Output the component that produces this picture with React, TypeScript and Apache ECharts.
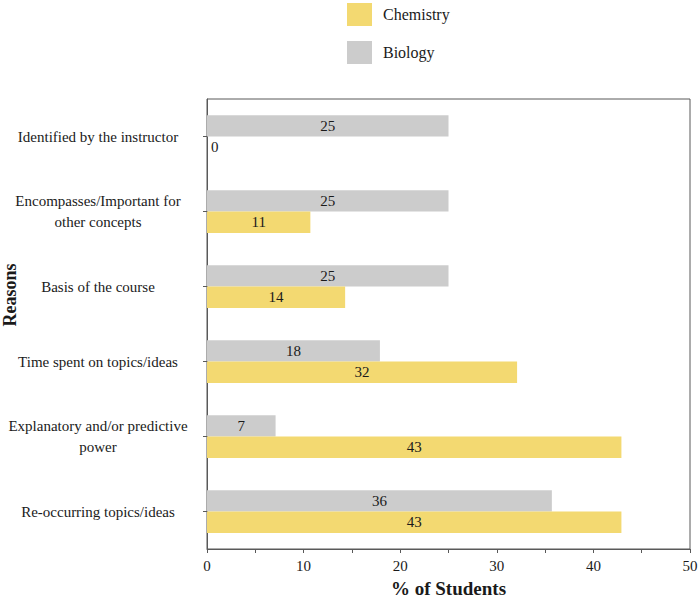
import React, { useEffect, useRef } from "react";
import * as echarts from "echarts";

const categories = [
  "Re-occurring topics/ideas",
  "Explanatory and/or predictive\npower",
  "Time spent on topics/ideas",
  "Basis of the course",
  "Encompasses/Important for\nother concepts",
  "Identified by the instructor",
];
const chemistry = [42.9, 42.9, 32.1, 14.3, 10.7, 0];
const biology = [35.7, 7.1, 17.9, 25, 25, 25];
const xTicks = { min: 0, max: 50, interval: 10 };

const FONT = "'Liberation Serif', 'DejaVu Serif', serif";

export default function App() {
  const ref = useRef<HTMLDivElement>(null);
  useEffect(() => {
    document.body.style.margin = "0";
    const chart = echarts.init(ref.current!, null, { renderer: "svg" });
    const labelBase = {
      show: true,
      position: "inside",
      color: "#1a1a1a",
      fontSize: 15,
      fontFamily: FONT,
      formatter: (p: any) => String(Math.round(p.value)),
    };
    const mk = (arr: number[]) =>
      arr.map((v) =>
        v === 0 ? { value: v, label: { position: "right", distance: 4 } } : v
      );
    chart.setOption({
      animation: false,
      textStyle: { fontFamily: FONT },
      legend: {
        orient: "vertical",
        left: 342,
        top: -2,
        itemWidth: 25,
        itemHeight: 23,
        itemGap: 15,
        icon: "rect",
        data: ["Chemistry", "Biology"],
        textStyle: { fontSize: 16, color: "#1a1a1a", fontFamily: FONT, padding: [0, 0, 0, 6] },
      },
      graphic: [
        {
          type: "text",
          x: 10,
          y: 295,
          rotation: Math.PI / 2,
          style: {
            text: "Reasons",
            fontSize: 18,
            fontWeight: "bold",
            fill: "#1a1a1a",
            fontFamily: FONT,
            align: "center",
            verticalAlign: "middle",
          },
        },
      ],
      grid: {
        left: 207,
        right: 10,
        top: 99,
        bottom: 50,
        show: true,
        borderColor: "#595959",
        borderWidth: 1,
        containLabel: false,
        outerBoundsMode: "none",
      },
      xAxis: {
        type: "value",
        min: xTicks.min,
        max: xTicks.max,
        interval: xTicks.interval,
        name: "% of Students",
        nameLocation: "middle",
        nameGap: 30,
        nameMoveOverlap: false,
        nameTextStyle: { fontSize: 19, fontWeight: "bold", color: "#1a1a1a", fontFamily: FONT },
        axisLine: { show: true, lineStyle: { color: "#595959" } },
        axisTick: { show: true, length: 4, lineStyle: { color: "#595959" } },
        minorTick: { show: true, splitNumber: 2, length: 4, lineStyle: { color: "#595959" } },
        splitLine: { show: false },
        axisLabel: { fontSize: 15, color: "#1a1a1a", fontFamily: FONT, margin: 9 },
      },
      yAxis: {
        type: "category",
        data: categories,
        axisLine: { show: true, lineStyle: { color: "#595959" } },
        axisTick: { show: true, alignWithLabel: true, length: 4, lineStyle: { color: "#595959" } },
        axisLabel: {
          fontSize: 15,
          color: "#1a1a1a",
          fontFamily: FONT,
          align: "center",
          margin: 109,
          lineHeight: 21,
        },
      },
      series: [
        {
          name: "Biology",
          type: "bar",
          data: mk(biology),
          itemStyle: { color: "#CCCCCC" },
          barGap: "0%",
          barCategoryGap: "43%",
          label: labelBase,
        },
        {
          name: "Chemistry",
          type: "bar",
          data: mk(chemistry),
          itemStyle: { color: "#F3D971" },
          barGap: "0%",
          barCategoryGap: "43%",
          label: labelBase,
        },
      ],
    });
    return () => chart.dispose();
  }, []);
  return <div ref={ref} style={{ width: 700, height: 599 }} />;
}
